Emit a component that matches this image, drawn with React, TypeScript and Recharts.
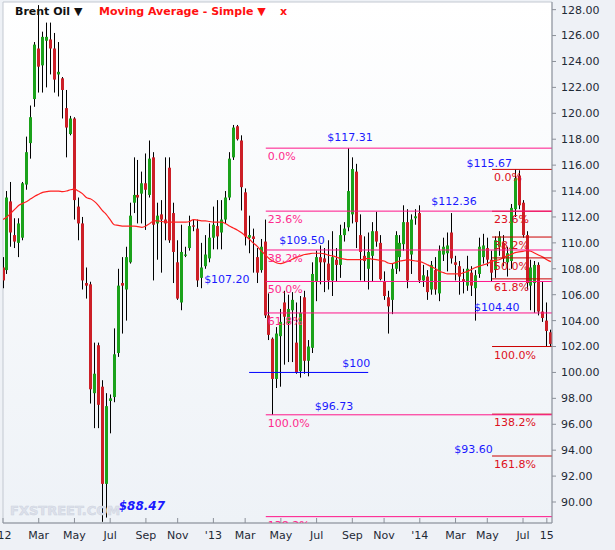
import React from 'react';
import {
  ComposedChart,
  Bar,
  Line,
  XAxis,
  YAxis,
  CartesianGrid,
  ReferenceLine,
  ReferenceDot,
  ReferenceArea,
} from 'recharts';

document.body.style.margin = '0';

const FONT = "'DejaVu Sans', Verdana, sans-serif";
const UP = '#1ba21b';
const DOWN = '#cc1f27';
const PINK = '#ff1489';
const DARK_RED = '#cc0000';
const BLUE = '#1a1aff';
const AXIS = '#8b9099';
const INK = '#1f2a36';

// weekly candles, Jan 2012 .. Aug 2014
const OPEN = [
  108.1, 107.9, 113.2, 110.6, 110.0, 110.4, 114.5, 117.7, 121.1, 125.0,
  123.7, 125.6, 125.7, 125.0, 123.0, 122.7, 120.4, 118.4, 119.6, 112.8,
  111.5, 106.9, 106.8, 98.4, 102.1, 98.9, 91.4, 97.8, 98.1, 101.5,
  106.9, 106.4, 108.5, 113.1, 113.7, 113.8, 114.6, 113.7, 116.6, 111.5,
  112.2, 111.8, 115.8, 112.3, 108.5, 105.4, 109.0, 109.6, 111.35, 111.1,
  107.3, 108.2, 108.8, 110.4, 111.3, 110.8, 111.8, 113.5, 116.6, 119.0,
  117.9, 113.9, 110.4, 110.5, 108.9, 107.9, 110.1, 104.4, 102.6, 99.5,
  102.8, 105.4, 103.8, 104.8, 102.3, 100.1, 105.8, 100.9, 101.9, 107.0,
  108.9, 108.8, 108.4, 107.1, 108.7, 108.3, 110.6, 111.2, 112.2, 115.5,
  110.6, 109.0, 108.0, 109.0, 110.9, 110.0, 107.0, 105.8, 105.6, 108.0,
  108.9, 109.9, 111.6, 109.1, 111.9, 112.3, 107.1, 107.4, 106.4, 107.9,
  106.1, 109.1, 109.2, 110.8, 108.5, 108.2, 107.2, 106.7, 107.7, 106.5,
  107.6, 108.9, 109.6, 108.7, 107.9, 109.7, 110.0, 108.5, 108.6, 112.6,
  115.2, 113.1, 110.6, 106.7, 106.9, 108.3, 104.7, 104.0, 103.1,
];
const HIGH = [
  108.9, 114.0, 114.7, 111.9, 111.9, 114.7, 118.2, 120.6, 125.5, 128.35,
  126.3, 127.0, 127.0, 126.2, 125.5, 122.8, 121.8, 119.8, 119.7, 113.5,
  112.0, 108.1, 107.0, 102.3, 102.3, 99.4, 98.4, 98.3, 103.4, 108.0,
  108.9, 109.7, 113.1, 116.6, 116.4, 115.5, 116.9, 117.9, 117.0, 113.1,
  113.3, 116.6, 116.6, 113.1, 110.2, 111.4, 109.7, 112.1, 111.8, 111.8,
  110.0, 110.6, 111.5, 112.8, 113.3, 113.3, 114.0, 117.0, 119.1, 119.1,
  118.3, 114.2, 112.1, 111.1, 109.6, 110.3, 111.8, 106.1, 102.7, 103.5,
  104.9, 106.3, 106.0, 106.2, 105.4, 105.9, 106.3, 102.5, 108.5, 109.4,
  109.8, 109.6, 110.2, 110.9, 109.6, 111.4, 111.6, 117.31, 116.6, 116.1,
  112.2, 110.5, 110.8, 111.6, 112.4, 110.6, 107.8, 106.3, 108.4, 110.9,
  110.6, 112.9, 112.6, 112.2, 112.6, 112.9, 108.3, 107.9, 108.6, 108.9,
  109.8, 110.4, 110.8, 112.3, 109.0, 108.6, 108.0, 109.0, 108.2, 107.9,
  110.4, 110.7, 110.4, 109.4, 110.5, 110.9, 110.6, 109.7, 113.0, 115.67,
  115.6, 113.3, 110.9, 108.7, 108.6, 108.5, 107.0, 105.4, 103.3,
];
const LOW = [
  106.5, 107.6, 109.7, 109.6, 108.9, 110.2, 114.1, 116.5, 120.5, 121.6,
  121.6, 122.0, 123.0, 121.6, 121.3, 119.6, 116.6, 118.3, 111.8, 110.2,
  106.4, 105.7, 97.6, 95.7, 95.7, 88.47, 88.8, 95.3, 97.7, 101.2,
  103.0, 104.0, 108.4, 112.3, 111.5, 111.5, 111.0, 113.5, 107.1, 108.7,
  107.7, 110.2, 110.0, 106.9, 105.6, 104.8, 108.9, 109.4, 110.9, 106.6,
  106.5, 108.0, 108.5, 109.5, 109.5, 109.5, 111.5, 113.3, 116.4, 117.9,
  112.5, 109.8, 109.2, 107.7, 106.9, 107.7, 104.2, 102.5, 96.73, 98.8,
  98.9, 100.6, 100.8, 100.8, 99.9, 99.6, 99.9, 99.7, 101.5, 105.5,
  106.8, 106.2, 106.4, 105.9, 107.0, 107.3, 110.1, 110.9, 111.5, 109.6,
  107.1, 107.0, 106.4, 107.0, 109.7, 107.1, 105.6, 103.0, 104.5, 107.6,
  107.8, 109.4, 106.5, 107.6, 111.4, 106.9, 106.6, 105.6, 106.0, 106.0,
  105.5, 108.6, 107.8, 108.4, 107.1, 106.0, 106.1, 106.3, 105.9, 104.0,
  107.3, 108.4, 108.2, 107.0, 107.3, 109.0, 108.2, 107.4, 108.0, 112.0,
  112.6, 110.4, 106.4, 104.8, 104.6, 104.4, 103.9, 102.0, 102.0,
];
const CLOSE = [
  107.1, 113.5, 110.8, 110.1, 111.5, 114.6, 117.0, 119.7, 125.3, 123.6,
  125.9, 125.9, 125.0, 122.6, 123.2, 121.8, 118.9, 119.6, 113.3, 111.5,
  107.1, 106.7, 98.7, 99.9, 97.5, 91.4, 97.4, 98.0, 101.4, 106.7,
  106.7, 108.9, 112.1, 113.7, 113.5, 114.6, 114.1, 116.5, 111.4, 112.1,
  111.8, 111.5, 110.2, 109.3, 105.7, 109.3, 109.1, 111.3, 111.25, 107.1,
  108.1, 109.1, 110.4, 111.4, 110.5, 111.8, 113.5, 116.5, 118.9, 118.0,
  114.3, 110.5, 110.6, 110.3, 107.7, 109.7, 104.4, 102.9, 99.5, 103.0,
  103.9, 104.3, 104.9, 105.6, 100.0, 104.6, 100.9, 102.0, 107.6, 108.9,
  108.5, 108.5, 107.1, 108.9, 108.3, 110.6, 111.1, 114.0, 115.7, 111.6,
  109.3, 108.6, 109.3, 110.9, 110.1, 107.2, 105.9, 105.1, 108.0, 110.6,
  110.0, 111.6, 107.1, 111.8, 112.05, 107.1, 107.5, 106.2, 108.3, 106.4,
  109.4, 109.7, 109.8, 108.8, 108.3, 107.4, 107.0, 108.0, 106.7, 107.5,
  109.7, 109.8, 108.7, 107.7, 110.2, 110.5, 108.8, 109.2, 112.7, 115.0,
  112.9, 110.6, 106.9, 108.1, 108.3, 104.7, 104.2, 103.2, 102.2,
];
// simple moving average as drawn
const SMA = [
  111.8, 112.0, 112.3, 112.6, 112.9, 113.05, 113.2, 113.4, 113.6, 113.75,
  113.9, 113.95, 114.0, 114.0, 114.0, 113.95, 114.0, 114.1, 114.15, 114.0,
  113.8, 113.5, 113.4, 113.2, 112.9, 112.5, 112.2, 111.8, 111.4, 111.35,
  111.3, 111.3, 111.3, 111.3, 111.25, 111.2, 111.3, 111.5, 111.7, 111.7,
  111.65, 111.6, 111.6, 111.6, 111.6, 111.6, 111.6, 111.65, 111.8, 111.75,
  111.7, 111.7, 111.65, 111.6, 111.6, 111.6, 111.5, 111.3, 111.15, 111.0,
  110.8, 110.55, 110.3, 110.0, 109.75, 109.4, 109.1, 108.8, 108.6, 108.45,
  108.4, 108.5, 108.6, 108.75, 108.9, 109.0, 109.1, 109.15, 109.2, 109.2,
  109.2, 109.15, 109.05, 109.0, 108.9, 108.8, 108.75, 108.7, 108.7, 108.7,
  108.7, 108.75, 108.8, 108.75, 108.7, 108.65, 108.6, 108.45, 108.4, 108.5,
  108.6, 108.65, 108.7, 108.65, 108.6, 108.55, 108.45, 108.3, 108.15, 108.0,
  107.8, 107.7, 107.6, 107.6, 107.6, 107.6, 107.7, 107.8, 107.95, 108.1,
  108.2, 108.3, 108.4, 108.55, 108.65, 108.7, 108.85, 109.0, 109.1, 109.25,
  109.3, 109.35, 109.4, 109.35, 109.2, 109.05, 108.9, 108.7, 108.55,
];

const X_TICKS = [0, 9, 18, 27, 36, 44, 53, 61, 70, 79, 88, 96, 105, 114, 122, 131, 137];
const X_LABELS = ["'12", 'Mar', 'May', 'Jul', 'Sep', 'Nov', "'13", 'Mar', 'May', 'Jul', 'Sep', 'Nov', "'14", 'Mar', 'May', 'Jul', '15'];
const Y_TICKS = [90, 92, 94, 96, 98, 100, 102, 104, 106, 108, 110, 112, 114, 116, 118, 120, 122, 124, 126, 128];

// retracement 96.73 -> 117.31
const FIB_A = [117.31, 112.45, 109.45, 107.02, 104.59, 96.73, 88.87];
const FIB_A_PCT = ['0.0%', '23.6%', '38.2%', '50.0%', '61.8%', '100.0%', '138.2%'];
// retracement 115.67 -> 102.00
const FIB_B = [115.67, 112.44, 110.45, 108.84, 107.22, 102.0, 96.78, 93.55];
const FIB_B_PCT = ['0.0%', '23.6%', '38.2%', '50.0%', '61.8%', '100.0%', '138.2%', '161.8%'];
const FIB_A_FROM = 66.2;
const FIB_B_FROM = 123.2;
const SUPPORT = 100;
const SUPPORT_SPAN = [62, 92];
const X_END = 138.3;
const Y_DOMAIN = [88.38, 128.59];

const TAGS = [
  { text: '$117.31', at: 87.4, price: 117.31, anchor: 'middle', dy: -7 },
  { text: '$115.67', at: 128.2, price: 115.67, anchor: 'end', dy: -2 },
  { text: '$112.36', at: 113.6, price: 112.36, anchor: 'middle', dy: -7 },
  { text: '$109.50', at: 75.3, price: 109.5, anchor: 'middle', dy: -5 },
  { text: '$107.20', at: 56.4, price: 107.2, anchor: 'middle', dy: 4 },
  { text: '$104.40', at: 124.4, price: 104.4, anchor: 'middle', dy: -4 },
  { text: '$100', at: 89, price: 100, anchor: 'middle', dy: -5 },
  { text: '$96.73', at: 83.4, price: 96.73, anchor: 'middle', dy: -5 },
  { text: '$93.60', at: 123.4, price: 93.6, anchor: 'end', dy: -2 },
];

const data = OPEN.map((o, i) => ({ i, o, h: HIGH[i], l: LOW[i], c: CLOSE[i], ma: SMA[i] }));

function Candle(props: any) {
  const { x, y, width, height, payload } = props;
  if (x == null || y == null || !payload) return null;
  const { o, h, l, c } = payload;
  const k = height / (h - l || 1);
  const py = (p: number) => y + (h - p) * k;
  const cx = Math.round(x + width / 2);
  const top = py(Math.max(o, c));
  const bh = Math.max(1, Math.abs(py(o) - py(c)));
  return (
    <g>
      <line x1={cx + 0.5} x2={cx + 0.5} y1={y} y2={y + height} stroke="#000" strokeWidth={1} />
      <rect x={cx - 1} y={top} width={3} height={bh} fill={c >= o ? UP : DOWN} />
    </g>
  );
}

function XTick({ x, y, payload }: any) {
  const label = X_LABELS[X_TICKS.indexOf(payload.value)];
  return (
    <g>
      <line x1={x} x2={x} y1={y - 5} y2={y} stroke={AXIS} />
      <text x={x} y={y + 16} textAnchor="middle" fontFamily={FONT} fontSize={11} fill={INK}>
        {label}
      </text>
    </g>
  );
}

// text drawn at a reference point, clipped to the plot like the original
const textAt =
  (text: string, color: string, dx: number, dy: number, anchor = 'start', extra: any = {}) =>
  (p: any) => (
    <text
      x={p.cx + dx}
      y={p.cy + dy}
      textAnchor={anchor}
      fontFamily={FONT}
      fontSize={11}
      fill={color}
      clipPath={p.clipPath}
      {...extra}
    >
      {text}
    </text>
  );

export default function App() {
  return (
    <div style={{ position: 'relative', width: 615, height: 550, background: '#eef1f6', overflow: 'hidden' }}>
      <ComposedChart width={615} height={550} data={data} margin={{ top: 2, right: 0, bottom: 0, left: 3 }}>
        <defs>
          <linearGradient id="plotBg" x1="0" y1="0" x2="0" y2="1">
            <stop offset="0%" stopColor="#ffffff" />
            <stop offset="100%" stopColor="#eef2f7" />
          </linearGradient>
        </defs>
        <CartesianGrid horizontal={false} vertical={false} fill="url(#plotBg)" />
        <XAxis
          type="number"
          dataKey="i"
          domain={[0, X_END]}
          allowDataOverflow
          ticks={X_TICKS}
          interval={0}
          tick={<XTick />}
          tickLine={false}
          tickSize={0}
          tickMargin={0}
          axisLine={{ stroke: AXIS }}
          height={27}
        />
        <YAxis
          orientation="right"
          domain={Y_DOMAIN}
          allowDataOverflow
          ticks={Y_TICKS}
          interval={0}
          width={63}
          tickFormatter={(v: number) => v.toFixed(2)}
          tick={{ fontFamily: FONT, fontSize: 11, fill: INK }}
          tickSize={4}
          tickMargin={5}
          tickLine={{ stroke: AXIS }}
          axisLine={{ stroke: AXIS }}
        />
        <ReferenceArea x1={0} x2={X_END} y1={Y_DOMAIN[0]} y2={Y_DOMAIN[1]} fill="none" stroke="#c3c8d1" />

        <Bar dataKey={(d: any) => [d.l, d.h]} barSize={3} shape={<Candle />} isAnimationActive={false} />
        <Line type="monotone" dataKey="ma" stroke="#ff2020" strokeWidth={1.2} dot={false} isAnimationActive={false} />

        {FIB_B.map((v, k) => (
          <ReferenceLine
            key={'b' + k}
            segment={[{ x: FIB_B_FROM, y: v }, { x: X_END, y: v }]}
            stroke={DARK_RED}
            strokeWidth={1}
          />
        ))}
        {FIB_A.map((v, k) => (
          <ReferenceLine
            key={'a' + k}
            segment={[{ x: FIB_A_FROM, y: v }, { x: X_END, y: v }]}
            stroke={PINK}
            strokeWidth={1}
          />
        ))}
        <ReferenceLine
          segment={[{ x: SUPPORT_SPAN[0], y: SUPPORT }, { x: SUPPORT_SPAN[1], y: SUPPORT }]}
          stroke="#0000ff"
          strokeWidth={1}
        />

        {FIB_A.map((v, k) => (
          <ReferenceDot
            key={'al' + k}
            x={FIB_A_FROM}
            y={v}
            r={0}
            ifOverflow="hidden"
            shape={textAt(FIB_A_PCT[k], '#ff2a8c', 2, 12)}
          />
        ))}
        {FIB_B.map((v, k) => (
          <ReferenceDot
            key={'bl' + k}
            x={FIB_B_FROM}
            y={v}
            r={0}
            ifOverflow="hidden"
            shape={textAt(FIB_B_PCT[k], '#dd1122', 2, 12)}
          />
        ))}
        {TAGS.map((t, k) => (
          <ReferenceDot key={'t' + k} x={t.at} y={t.price} r={0} shape={textAt(t.text, BLUE, 0, t.dy, t.anchor)} />
        ))}
        <ReferenceDot
          x={35}
          y={88.47}
          r={0}
          shape={textAt('$88.47', BLUE, 0, -12, 'middle', { fontWeight: 'bold', fontStyle: 'italic', fontSize: 12 })}
        />
      </ComposedChart>

      <div
        style={{
          position: 'absolute',
          left: 10,
          top: 503,
          fontFamily: FONT,
          fontWeight: 'bold',
          fontSize: 13,
          color: '#dde1eb',
          WebkitTextStroke: '0.5px #cdd3df',
        }}
      >
        FXSTREET.COM
      </div>
      <div
        style={{
          position: 'absolute',
          left: 15,
          top: 5,
          fontFamily: FONT,
          fontWeight: 'bold',
          fontSize: 11,
          whiteSpace: 'nowrap',
        }}
      >
        <span style={{ color: '#111' }}>Brent Oil ▼</span>
        <span style={{ color: '#ff1010', position: 'absolute', left: 84 }}>Moving Average - Simple ▼</span>
        <span style={{ color: '#ff1010', position: 'absolute', left: 265 }}>x</span>
      </div>
    </div>
  );
}
